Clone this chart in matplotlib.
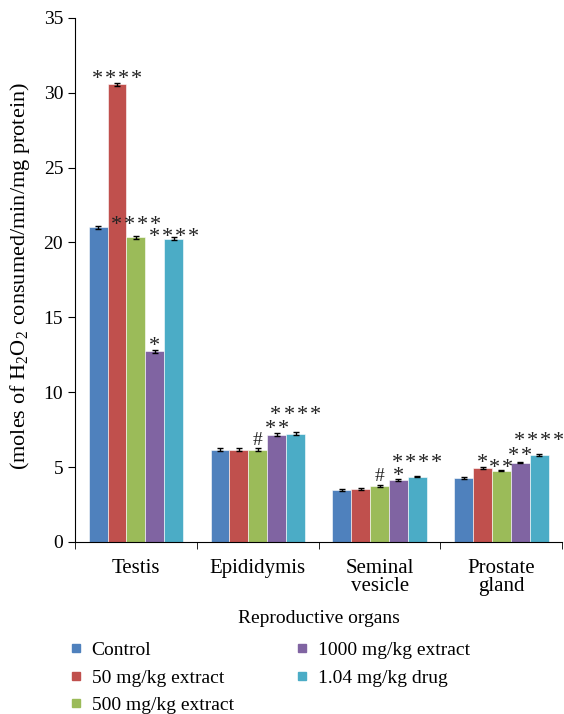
import numpy as np
import matplotlib.pyplot as plt
from matplotlib.lines import Line2D

plt.rcParams['font.family'] = ['Liberation Serif', 'DejaVu Serif']
plt.rcParams['mathtext.fontset'] = 'custom'
plt.rcParams['mathtext.rm'] = 'Liberation Serif'

organs = ["Testis", "Epididymis", "Seminal\nvesicle", "Prostate\ngland"]
groups = ["Control", "50 mg/kg extract", "500 mg/kg extract",
          "1000 mg/kg extract", "1.04 mg/kg drug"]
colors = ["#4F81BD", "#C0504D", "#9BBB59", "#8064A2", "#4BACC6"]

control = [21.0, 6.15, 3.47, 4.27]
ext50 = [30.55, 6.15, 3.53, 4.94]
ext500 = [20.35, 6.15, 3.72, 4.76]
ext1000 = [12.75, 7.15, 4.14, 5.30]
drug = [20.25, 7.22, 4.36, 5.81]
errors = [0.1, 0.1, 0.05, 0.05]

marks_50 = ["****", "", "", "*"]
marks_500 = ["****", "#", "#", "**"]
marks_1000 = ["*", "**", "*", "**"]
marks_drug = ["****", "****", "****", "****"]

# distance from bar top to the centre of each label (pixels)
gap_50 = [10, 0, 0, 10]
gap_500 = [17, 11, 12, 8]
gap_1000 = [10, 11, 9, 12]
gap_drug = [7, 24, 19, 19]

series = [control, ext50, ext500, ext1000, drug]
marks = [[""] * 4, marks_50, marks_500, marks_1000, marks_drug]
gaps = [[0] * 4, gap_50, gap_500, gap_1000, gap_drug]

fig = plt.figure(figsize=(5.64, 7.14), dpi=100)
ax = fig.add_axes([0.133, 0.241, 0.864, 0.734])

x = np.arange(len(organs))
w = 0.155
star_fs, star_step = 16, 9.4
for i, vals in enumerate(series):
    pos = x + (i - 2) * w
    ax.bar(pos, vals, w, color=colors[i], edgecolor="white", linewidth=0.4,
           yerr=errors, error_kw=dict(ecolor="black", elinewidth=1, capsize=2.5, capthick=1))
    for p, v, m, g in zip(pos, vals, marks[i], gaps[i]):
        if not m:
            continue
        if m == "#":
            ax.annotate(m, (p, v), xytext=(0, (g - 6.5) * 0.72), textcoords="offset points",
                        ha="center", va="baseline", fontsize=14, color="#222222")
            continue
        n = len(m)
        mid = 0.45 * star_fs / 0.72
        for k in range(n):
            dx = (k - (n - 1) / 2) * star_step
            ax.annotate("*", (p, v), xytext=(dx, (g - mid) * 0.72), textcoords="offset points",
                        ha="center", va="baseline", fontsize=star_fs, color="#222222")

ax.set_xlim(-0.5, 3.5)
ax.set_ylim(0, 35)
ax.set_yticks(range(0, 36, 5))
ax.set_xticks(x)
ax.set_xticklabels(organs, fontsize=15, linespacing=0.95)
ax.tick_params(axis="x", length=0, pad=12)
ax.set_xticks(np.arange(-0.5, 4.0, 1.0), minor=True)
ax.tick_params(axis="x", which="minor", length=5, direction="out")
ax.tick_params(axis="y", labelsize=14, length=5, direction="out")
ax.spines["top"].set_visible(False)
ax.spines["right"].set_visible(False)

ax.set_ylabel("(moles of H$_2$O$_2$ consumed/min/mg protein)", fontsize=16)
ax.yaxis.set_label_coords(-0.088, 0.508)
ax.set_xlabel("Reproductive organs", fontsize=14, labelpad=10)

handles = [Line2D([0], [0], marker="s", color="w", markerfacecolor=c,
                  markeredgecolor=c, markersize=6) for c in colors]
fig.legend(handles, groups, loc="upper left", bbox_to_anchor=(0.117, 0.102),
           ncol=2, frameon=False, fontsize=14, handletextpad=0.32,
           columnspacing=3.0, labelspacing=0.52, handlelength=1.0,
           borderpad=0, borderaxespad=0)

fig.savefig("out.png", dpi=100)
